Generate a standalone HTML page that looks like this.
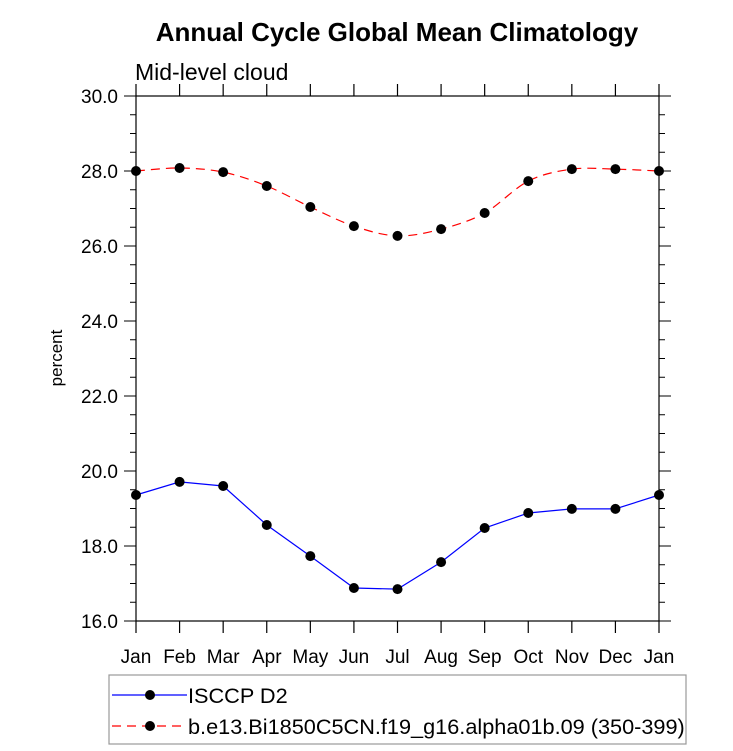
<!DOCTYPE html>
<html><head><meta charset="utf-8"><style>
body{margin:0;background:#fff;}
svg{display:block;font-family:"Liberation Sans",Arial,sans-serif;}
</style></head><body>
<svg id="c" width="733" height="751">
<text x="397" y="41" text-anchor="middle" font-size="26" font-weight="bold">Annual Cycle Global Mean Climatology</text>
<text x="135" y="80" font-size="23">Mid-level cloud</text>
<text transform="translate(62,358) rotate(-90)" text-anchor="middle" font-size="17">percent</text>
<rect x="136" y="96" width="523" height="525" fill="none" stroke="#000" stroke-width="1.2"/>
<g id="axes"></g>
<g id="series"></g>
<g>
<rect x="109" y="675" width="577" height="69" fill="none" stroke="#999" stroke-width="1.2"/>
<line x1="112" y1="695" x2="187" y2="695" stroke="#0000ff" stroke-width="1.2"/>
<circle cx="150" cy="695" r="5" fill="#000"/>
<text x="188" y="703" font-size="21.7">ISCCP D2</text>
<line x1="112" y1="726" x2="187" y2="726" stroke="#ff0000" stroke-width="1.2" stroke-dasharray="9,6"/>
<circle cx="150" cy="726" r="5" fill="#000"/>
<text x="188" y="734" font-size="21.7">b.e13.Bi1850C5CN.f19_g16.alpha01b.09 (350-399)</text>
</g>
</svg>
<script>
const months=["Jan","Feb","Mar","Apr","May","Jun","Jul","Aug","Sep","Oct","Nov","Dec","Jan"];
const obsValues=[19.36,19.71,19.6,18.56,17.73,16.88,16.85,17.57,18.48,18.88,18.99,18.99,19.36];
const modelValues=[28.0,28.08,27.97,27.6,27.04,26.53,26.27,26.45,26.88,27.73,28.05,28.05,28.0];
const yTicks=[16,18,20,22,24,26,28,30];
const NS="http://www.w3.org/2000/svg";
const X0=136,X1=659,Y0=621,Y1=96,YMIN=16,YMAX=30;
const xs=i=>X0+i*(X1-X0)/(months.length-1);
const ys=v=>Y0-(v-YMIN)*(Y0-Y1)/(YMAX-YMIN);
function mk(t,a,p){const e=document.createElementNS(NS,t);for(const k in a)e.setAttribute(k,a[k]);p.appendChild(e);return e;}
const ax=document.getElementById('axes');
months.forEach((m,i)=>{
  const x=xs(i);
  const t1=mk('line',{x1:x,y1:Y0,x2:x,y2:Y0+12,stroke:'#000','stroke-width':1.2},ax);
  
  
  mk('line',{x1:x,y1:Y1,x2:x,y2:Y1-12,stroke:'#000','stroke-width':1.2},ax);
  const tx=mk('text',{x:x,y:663,'text-anchor':'middle','font-size':19},ax);
  tx.textContent=m;
  
  
});
for(let v=YMIN;v<=YMAX+1e-9;v+=0.5){
  const y=ys(v);const major=Math.abs(v-Math.round(v))<1e-9&&yTicks.includes(Math.round(v));
  const L=major?12:6;
  mk('line',{x1:X0-L,y1:y,x2:X0,y2:y,stroke:'#000','stroke-width':1},ax);
  mk('line',{x1:X1,y1:y,x2:X1+L,y2:y,stroke:'#000','stroke-width':1},ax);
}
yTicks.forEach(v=>{
  const tx=mk('text',{x:118,y:ys(v)+7,'text-anchor':'end','font-size':19},ax);
  tx.textContent=v.toFixed(1);
  
  
});
const sg=document.getElementById('series');
const op=obsValues.map((v,i)=>[xs(i),ys(v)]);
const pl=mk('polyline',{points:op.map(p=>p.join(',')).join(' '),fill:'none',stroke:'#0000ff','stroke-width':1.2},sg);


const mp=modelValues.map((v,i)=>[xs(i),ys(v)]);
let d='M'+mp[0].join(',');
for(let i=0;i<mp.length-1;i++){
  const p0=mp[Math.max(0,i-1)],p1=mp[i],p2=mp[i+1],p3=mp[Math.min(mp.length-1,i+2)];
  d+=` C${p1[0]+(p2[0]-p0[0])/6},${p1[1]+(p2[1]-p0[1])/6} ${p2[0]-(p3[0]-p1[0])/6},${p2[1]-(p3[1]-p1[1])/6} ${p2[0]},${p2[1]}`;
}
const mpath=mk('path',{d:d,fill:'none',stroke:'#ff0000','stroke-width':1.2,'stroke-dasharray':'9,6'},sg);


op.forEach(p=>{const c=mk('circle',{cx:p[0],cy:p[1],r:5,fill:'#000'},sg);
  
  });
mp.forEach(p=>{const c=mk('circle',{cx:p[0],cy:p[1],r:5,fill:'#000'},sg);
  
  });
</script>
</body></html>
